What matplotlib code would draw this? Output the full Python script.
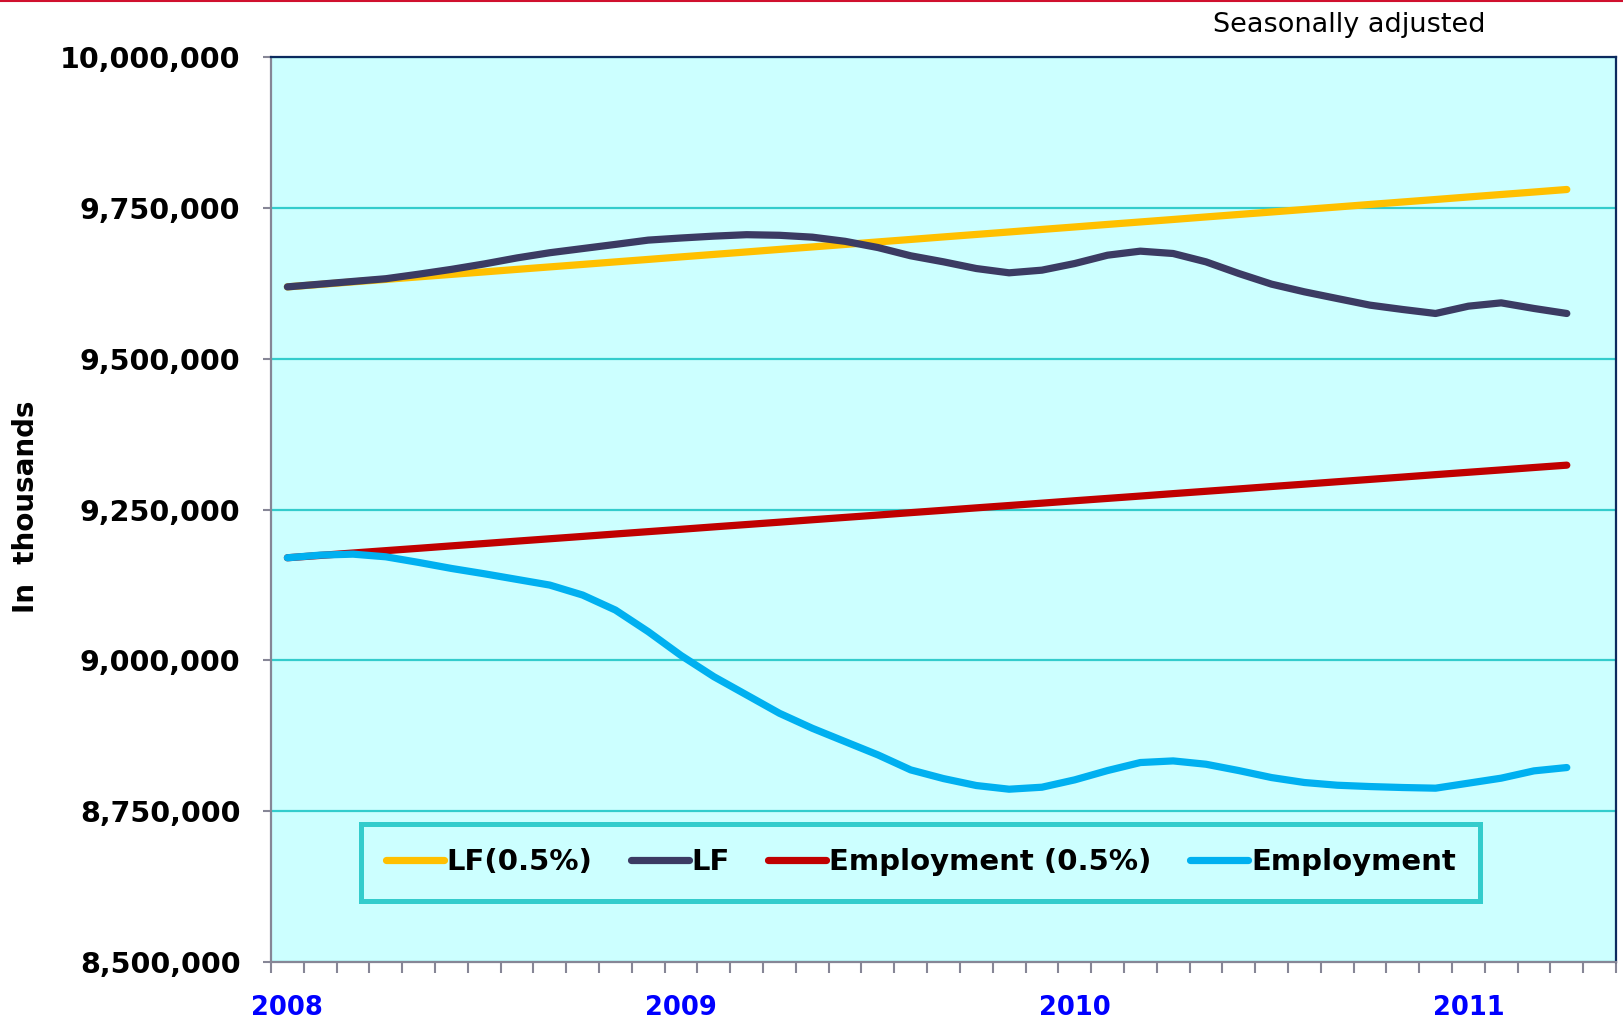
import matplotlib
matplotlib.use("Agg")
import matplotlib.pyplot as plt
from matplotlib.lines import Line2D
from matplotlib.ticker import FuncFormatter, FixedLocator

plt.rcParams["font.family"] = ["DejaVu Sans"]

# monthly values, Jan 2008 .. Apr 2011
years = ["2008", "2009", "2010", "2011"]

lf_trend = [
    9619000, 9623100, 9627300, 9631400, 9635600, 9639700, 9643800, 9648000,
    9652100, 9656200, 9660400, 9664500, 9668700, 9672800, 9676900, 9681100,
    9685200, 9689300, 9693500, 9697600, 9701800, 9705900, 9710000, 9714200,
    9718300, 9722500, 9726600, 9730700, 9734900, 9739000, 9743100, 9747300,
    9751400, 9755600, 9759700, 9763800, 9768000, 9772100, 9776200, 9780400,
]
lf = [
    9619000, 9623500, 9628000, 9632500, 9640000, 9648000, 9657000, 9667000,
    9675600, 9682500, 9689400, 9696500, 9700000, 9703100, 9705500, 9704500,
    9701400, 9694500, 9684200, 9670500, 9660500, 9649400, 9642300, 9646700,
    9657700, 9671500, 9678200, 9674300, 9660500, 9641200, 9623500, 9610800,
    9599700, 9588700, 9581500, 9574900, 9587000, 9592500, 9583200, 9574900,
]
emp_trend = [
    9170000, 9173900, 9177900, 9181800, 9185700, 9189700, 9193600, 9197600,
    9201500, 9205400, 9209400, 9213300, 9217200, 9221200, 9225100, 9229000,
    9233000, 9236900, 9240800, 9244800, 9248700, 9252700, 9256600, 9260500,
    9264500, 9268400, 9272300, 9276300, 9280200, 9284100, 9288100, 9292000,
    9296000, 9299900, 9303800, 9307800, 9311700, 9315600, 9319600, 9323500,
]
emp = [
    9170000, 9174400, 9176000, 9171600, 9162300, 9152300, 9143500, 9134100,
    9124700, 9108200, 9083300, 9047500, 9008000, 8972900, 8942600, 8912200,
    8887400, 8865300, 8843300, 8818400, 8804000, 8792500, 8786400, 8789700,
    8801900, 8817300, 8830600, 8833300, 8827800, 8817300, 8805700, 8797500,
    8793000, 8790800, 8789200, 8788100, 8796400, 8804700, 8816800, 8822300,
]

fig = plt.figure(figsize=(16.24, 10.23), dpi=100)
ax = fig.add_axes([271 / 1624, 61 / 1023, 1345 / 1624, 905 / 1023])
ax.set_facecolor("#CCFFFF")

x = list(range(len(lf)))
lw = 5.2
ax.plot(x, lf_trend, color="#FFC000", lw=lw, solid_capstyle="round", label="LF(0.5%)", zorder=3)
ax.plot(x, lf, color="#3B3B63", lw=lw, solid_capstyle="round", label="LF", zorder=4)
ax.plot(x, emp_trend, color="#C00000", lw=lw, solid_capstyle="round", label="Employment (0.5%)", zorder=3)
ax.plot(x, emp, color="#00B0F0", lw=lw, solid_capstyle="round", label="Employment", zorder=4)

ax.set_ylim(8500000, 10000000)
ax.set_yticks(range(8500000, 10000001, 250000))
ax.yaxis.set_major_formatter(FuncFormatter(lambda v, p: f"{int(v):,}"))
ax.grid(axis="y", color="#33CCCC", lw=1.6, zorder=1)
ax.tick_params(axis="y", direction="out", length=6, width=1.5, color="#868696",
               pad=16, labelsize=20.5)
for t in ax.get_yticklabels():
    t.set_fontweight("bold")

n_cat = len(lf) + 1
ax.set_xlim(-0.5, n_cat - 0.5)
ax.xaxis.set_major_locator(FixedLocator([12 * i for i in range(len(years))]))
ax.set_xticklabels(years, fontsize=18.5, fontweight="bold", color="#0000FF")
ax.xaxis.set_minor_locator(FixedLocator([i - 0.5 for i in range(n_cat + 1)]))
ax.tick_params(axis="x", which="major", length=0, pad=24)
ax.tick_params(axis="x", which="minor", direction="out", length=8, width=1.5, color="#868696")

for side in ["left", "bottom"]:
    ax.spines[side].set_color("#868696")
    ax.spines[side].set_linewidth(1.6)
for side in ["top", "right"]:
    ax.spines[side].set_color("#0B2A5E")
    ax.spines[side].set_linewidth(1.6)

leg = ax.legend(loc="center", bbox_to_anchor=(0.483, 0.11), ncol=4, frameon=True,
                fancybox=False, handlelength=2.0, handletextpad=0.1, columnspacing=1.3,
                borderpad=0.85, prop={"weight": "bold", "size": 21})
leg.get_frame().set_facecolor("#CCFFFF")
leg.get_frame().set_edgecolor("#33CCCC")
leg.get_frame().set_linewidth(3.6)
leg.get_frame().set_alpha(1)

fig.text(26 / 1624, 1 - 507 / 1023, "In  thousands", rotation=90, ha="center", va="center",
         fontsize=20, fontweight="bold")
fig.text(1349 / 1624, 1 - 25 / 1023, "Seasonally adjusted", ha="center", va="center",
         fontsize=19.5)
fig.add_artist(Line2D([0, 1], [0.999, 0.999], color="#D0102E", lw=1.5))

fig.savefig("out.png", dpi=100)
